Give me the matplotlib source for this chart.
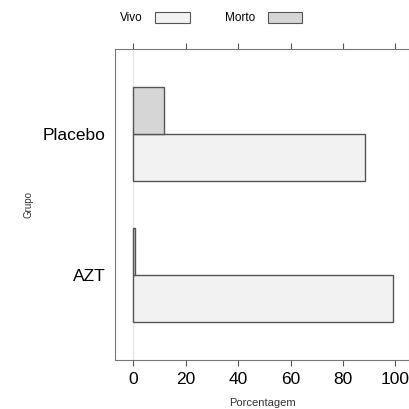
import matplotlib.pyplot as plt
from matplotlib.patches import Patch

plt.rcParams['font.family'] = ['Liberation Sans', 'DejaVu Sans']

grupos = ["AZT", "Placebo"]
vivo = [99.2, 88.4]
morto = [0.8, 11.6]
ticks = [0, 20, 40, 60, 80, 100]

cor_vivo = "#f2f2f2"
cor_morto = "#d6d6d6"
borda = "#555555"

fig = plt.figure(figsize=(4.1, 4.09), dpi=100)
W, H = 410, 409
# axes frame in pixels: left 115, right 409, top 49, bottom 360
ax = fig.add_axes([115 / W, 1 - 360 / H, (409 - 115) / W, (360 - 49) / H])

pos = [1, 2]
h = 1 / 3
ax.barh([p - h / 2 for p in pos], vivo, height=h, color=cor_vivo,
        edgecolor=borda, linewidth=1.0, zorder=3)
ax.barh([p + h / 2 for p in pos], morto, height=h, color=cor_morto,
        edgecolor=borda, linewidth=1.0, zorder=3)

ax.axvline(0, color="#e6e6e6", linewidth=1.0, zorder=1)

# 2.62 px per unit, 0 at x=133.3
ppu = 2.62
ax.set_xlim(-(133.3 - 115) / ppu, (409 - 133.3) / ppu)
ax.set_ylim(0.4, 2.6)

ax.set_xticks(ticks)
ax.set_xticklabels([str(t) for t in ticks], fontsize=12.5)
ax.tick_params(axis="x", top=True, bottom=True, direction="out", length=4.5,
               color="#555555", pad=4)
ax.set_yticks(pos)
ax.set_yticklabels(grupos, fontsize=12.5)
ax.tick_params(axis="y", length=0, pad=7)

for s in ["left", "bottom", "top"]:
    ax.spines[s].set_color("#777777")
ax.spines["right"].set_color("#dddddd")

ax.set_xlabel("Porcentagem", fontsize=8, color="#333333", labelpad=8)
ax.set_ylabel("Grupo", fontsize=7, color="#333333", labelpad=0)
ax.yaxis.set_label_coords((33 - 115) / (409 - 115), 0.5)

handles = [Patch(facecolor=cor_vivo, edgecolor=borda, linewidth=0.8),
           Patch(facecolor=cor_morto, edgecolor=borda, linewidth=0.8)]
fig.legend(handles, ["Vivo", "Morto"], ncol=2, markerfirst=False,
           frameon=False, fontsize=8.5, handlelength=2.9, handleheight=1.1,
           columnspacing=3.0, handletextpad=1.1,
           loc="center", bbox_to_anchor=(211 / W, 1 - 18 / H))

fig.savefig("out.png", dpi=100)
